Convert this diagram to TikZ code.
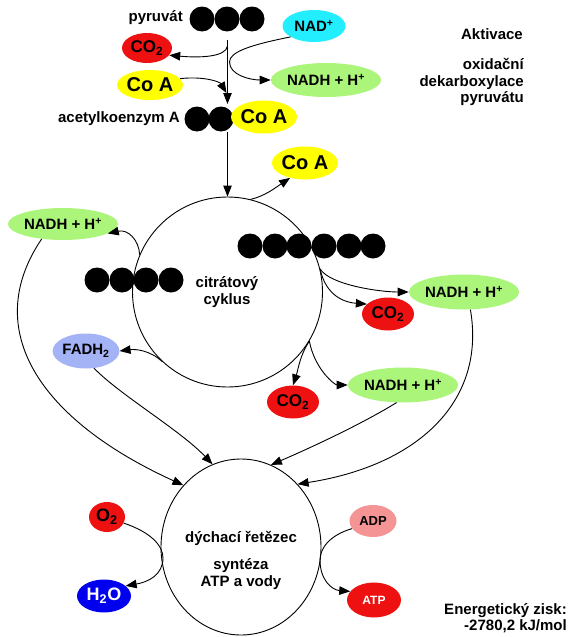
\documentclass[tikz,border=0pt]{standalone}
\usepackage{fontspec}
\setmainfont{Liberation Sans}
\usetikzlibrary{arrows.meta,shapes.geometric}
\definecolor{cyanx}{HTML}{22EEFF}
\definecolor{redx}{HTML}{EE1111}
\definecolor{yellowx}{HTML}{FFFF00}
\definecolor{greenx}{HTML}{AAF57A}
\definecolor{bluex}{HTML}{A3B3F5}
\definecolor{pinkx}{HTML}{F59494}
\definecolor{darkbluex}{HTML}{0000EE}
\newcommand\fs[1]{\fontsize{#1}{#1}\selectfont\bfseries}
\begin{document}
\begin{tikzpicture}[x=1pt,y=-1pt,
  lab/.style={font=\fontsize{15}{16.5}\selectfont\bfseries, inner sep=0},
  oval/.style n args={3}{ellipse, inner sep=0, minimum width=#1, minimum height=#2, fill=#3},
  ball/.style={circle, fill=black, minimum size=25pt, inner sep=0},
  arr/.style={-{Triangle[length=11pt,width=8.5pt]}, line width=0.9pt},
  ln/.style={line width=0.9pt}]
\useasboundingbox (0,0) rectangle (578,637);

% ---------- activation ----------
\node[lab, anchor=east] (pyrT) at (183,18) {pyruvát};
\node[ball] (p1) at (202,19) {};
\node[ball] (p2) at (227,19) {};
\node[ball] (p3) at (252,19) {};
\node[oval={63pt}{32pt}{cyanx}, font=\fs{15}] (nad) at (314,26) {NAD\textsuperscript{+}};
\node[oval={50pt}{30pt}{redx}, font=\fs{17}] (co2a) at (147,48) {CO\textsubscript{2}};
\node[oval={65pt}{30pt}{yellowx}, font=\fs{20}] (coa1) at (150,85) {Co A};
\node[oval={88pt}{34pt}{greenx}, font=\fs{15}] (nadh1) at (326,80) {NADH + H\textsuperscript{+}};
\node[lab, anchor=east] (acT) at (180,119) {acetylkoenzym A};
\node[ball] (a1) at (197,119) {};
\node[ball] (a2) at (221,119) {};
\node[oval={65pt}{33pt}{yellowx}, font=\fs{20}] (coa2) at (264,117) {Co A};

\node[lab, anchor=east] (akt) at (523,34) {Aktivace};
\node[lab, anchor=east, align=right] (oxd) at (524,82) {oxidační\\dekarboxylace\\pyruvátu};

\coordinate (v1) at (227.5,40);
\coordinate (v2) at (227.5,104);
\draw[arr] (v1) -- (v2);
\draw[arr] (227.5,46) .. controls (226,57) and (200,58) .. (co2a.-18);
\draw[arr] (nad.205) .. controls (250,45) and (229.5,52) .. (229.5,62) .. controls (229.5,75) and (250,80) .. (nadh1.west);
\draw[arr] (coa1.12) .. controls (205,76) and (220,82) .. (226.5,93);

% ---------- citrate cycle ----------
\node[circle, draw, line width=0.9pt, minimum size=190pt, inner sep=0] (cit) at (227.5,292) {};
\draw[arr] (a2.south -| cit.north) -- (cit.north);
\node[oval={64pt}{33pt}{yellowx}, font=\fs{20}] (coa3) at (305,163) {Co A};
\draw[arr] (cit.76) .. controls (265,196) and (275,188) .. (coa3.225);

\node[ball] (l1) at (97,280) {};
\node[ball] (l2) at (122,280) {};
\node[ball] (l3) at (146,280) {};
\node[ball] (l4) at (171,280) {};
\node[ball] (r1) at (250,246) {};
\node[ball] (r2) at (275,246) {};
\node[ball] (r3) at (299,246) {};
\node[ball] (r4) at (324,246) {};
\node[ball] (r5) at (349,246) {};
\node[ball] (r6) at (373,246) {};
\node[lab, align=center] (citT) at (227,292) {citrátový\\cyklus};

\node[oval={87pt}{32pt}{greenx}, font=\fs{15}] (nadh2) at (63,224) {NADH + H\textsuperscript{+}};
\node[oval={63pt}{35pt}{bluex}, font=\fs{15}] (fadh) at (86,351) {FADH\textsubscript{2}};
\node[oval={88pt}{35pt}{greenx}, font=\fs{15}] (nadh3) at (464,292) {NADH + H\textsuperscript{+}};
\node[oval={52pt}{33pt}{redx}, font=\fs{17}] (co2b) at (388,314) {CO\textsubscript{2}};
\node[oval={52pt}{33pt}{redx}, font=\fs{17}] (co2c) at (293,402) {CO\textsubscript{2}};
\node[oval={87pt}{35pt}{greenx}, font=\fs{15}] (nadh4) at (403,385) {NADH + H\textsuperscript{+}};

\draw[arr] (cit.157) .. controls (139,240) and (128,229) .. (nadh2.-12);
\draw[arr] (cit.227) .. controls (150,350) and (135,349) .. (fadh.east);
\draw[arr] (cit.14) .. controls (330,285) and (380,292) .. (nadh3.west);
\draw[arr] (cit.14) .. controls (325,292) and (340,302) .. (co2b.155);
\draw[arr] (cit.-31) .. controls (300,355) and (298,370) .. (co2c.north);
\draw[arr] (cit.-31) .. controls (315,370) and (335,385) .. (nadh4.west);

% ---------- respiratory chain ----------
\node[ellipse, draw, line width=0.9pt, minimum width=160pt, minimum height=176pt, inner sep=0] (resp) at (241,547) {};
\node[lab, align=center] (respT) at (241,538) {dýchací řetězec};
\node[lab, align=center] (syn) at (241,574) {syntéza\\ATP a vody};

\draw[arr] (nadh2.215) .. controls (-20,330) and (40,420) .. (resp.133);
\draw[arr] (fadh.-65) .. controls (120,395) and (180,430) .. (resp.109);
\draw[arr] (nadh4.-110) .. controls (360,425) and (310,448) .. (resp.70);
\draw[arr] (nadh3.-70) .. controls (486,400) and (420,465) .. (resp.48);

\node[oval={36pt}{30pt}{redx}, font=\fs{18}] (o2) at (107,517) {O\textsubscript{2}};
\node[oval={54pt}{33pt}{darkbluex}, font=\fs{18}, text=white] (h2o) at (104,596) {H\textsubscript{2}O};
\node[oval={47pt}{32pt}{pinkx}, font=\fs{13}] (adp) at (373,521) {ADP};
\node[oval={54pt}{35pt}{redx}, font=\fs{12}, text=white] (atp) at (374,600) {ATP};

\draw[arr] (o2.-20) .. controls (150,532) and (163,545) .. (163,558) .. controls (163,575) and (148,582) .. (h2o.25);
\draw[arr] (adp.200) .. controls (330,535) and (320,548) .. (320,560) .. controls (320,580) and (332,590) .. (atp.160);

\node[lab, anchor=east, align=right] (en) at (567,618) {Energetický zisk:\\-2780,2 kJ/mol};
\end{tikzpicture}
\end{document}
